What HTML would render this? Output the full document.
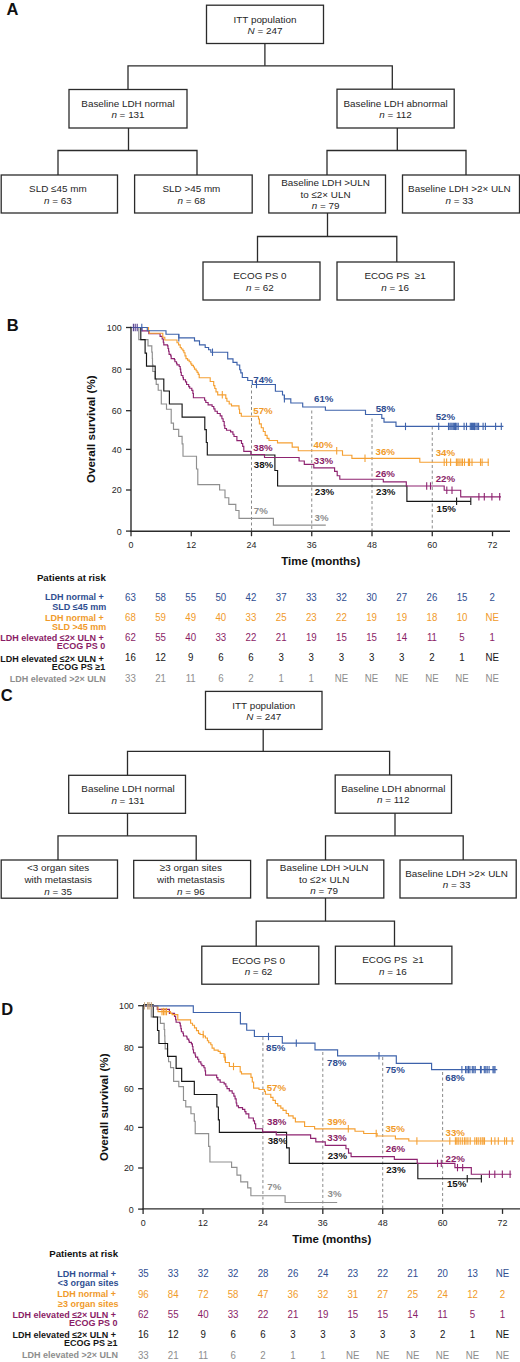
<!DOCTYPE html>
<html><head><meta charset="utf-8"><title>Figure</title>
<style>
html,body{margin:0;padding:0;background:#fff;}
svg{display:block;font-family:"Liberation Sans", sans-serif;}
</style></head>
<body>
<svg width="520" height="1362" viewBox="0 0 520 1362">
<rect width="520" height="1362" fill="#fff"/>
<text x="6.6" y="14.8" font-size="16.5" font-weight="700" fill="#111" text-anchor="start" >A</text>
<rect x="206.5" y="5.2" width="117.0" height="38.3" fill="none" stroke="#2b2b2b" stroke-width="1.3"/>
<text x="265.0" y="22.6" font-size="9.9" font-weight="400" fill="#262626" text-anchor="middle" >ITT population</text>
<text x="265.0" y="33.8" font-size="9.9" font-weight="400" fill="#262626" text-anchor="middle" ><tspan font-style="italic">N</tspan> = 247</text>
<rect x="69" y="89.5" width="118" height="38.5" fill="none" stroke="#2b2b2b" stroke-width="1.3"/>
<text x="128.0" y="107.0" font-size="9.9" font-weight="400" fill="#262626" text-anchor="middle" >Baseline LDH normal</text>
<text x="128.0" y="118.2" font-size="9.9" font-weight="400" fill="#262626" text-anchor="middle" ><tspan font-style="italic">n</tspan> = 131</text>
<rect x="337" y="89.2" width="117.19999999999999" height="38.8" fill="none" stroke="#2b2b2b" stroke-width="1.3"/>
<text x="395.6" y="107.0" font-size="9.9" font-weight="400" fill="#262626" text-anchor="middle" >Baseline LDH abnormal</text>
<text x="395.6" y="118.2" font-size="9.9" font-weight="400" fill="#262626" text-anchor="middle" ><tspan font-style="italic">n</tspan> = 112</text>
<rect x="1.2" y="175" width="116.3" height="38" fill="none" stroke="#2b2b2b" stroke-width="1.3"/>
<text x="57.85" y="192.4" font-size="9.9" font-weight="400" fill="#262626" text-anchor="middle" >SLD ≤45 mm</text>
<text x="57.85" y="203.6" font-size="9.9" font-weight="400" fill="#262626" text-anchor="middle" ><tspan font-style="italic">n</tspan> = 63</text>
<rect x="134.6" y="175" width="117.6" height="38" fill="none" stroke="#2b2b2b" stroke-width="1.3"/>
<text x="191.4" y="192.4" font-size="9.9" font-weight="400" fill="#262626" text-anchor="middle" >SLD &gt;45 mm</text>
<text x="191.4" y="203.6" font-size="9.9" font-weight="400" fill="#262626" text-anchor="middle" ><tspan font-style="italic">n</tspan> = 68</text>
<rect x="268.8" y="175" width="116.69999999999999" height="38" fill="none" stroke="#2b2b2b" stroke-width="1.3"/>
<text x="325.55" y="186.1" font-size="9.9" font-weight="400" fill="#262626" text-anchor="middle" >Baseline LDH &gt;ULN</text>
<text x="325.55" y="197.7" font-size="9.9" font-weight="400" fill="#262626" text-anchor="middle" >to ≤2× ULN</text>
<text x="325.55" y="209.3" font-size="9.9" font-weight="400" fill="#262626" text-anchor="middle" ><tspan font-style="italic">n</tspan> = 79</text>
<rect x="402.5" y="175" width="117.0" height="38" fill="none" stroke="#2b2b2b" stroke-width="1.3"/>
<text x="459.4" y="192.4" font-size="9.9" font-weight="400" fill="#262626" text-anchor="middle" >Baseline LDH &gt;2× ULN</text>
<text x="459.4" y="203.6" font-size="9.9" font-weight="400" fill="#262626" text-anchor="middle" ><tspan font-style="italic">n</tspan> = 33</text>
<rect x="203" y="262" width="117" height="38" fill="none" stroke="#2b2b2b" stroke-width="1.3"/>
<text x="259.9" y="279.3" font-size="9.9" font-weight="400" fill="#262626" text-anchor="middle" >ECOG PS 0</text>
<text x="259.9" y="290.5" font-size="9.9" font-weight="400" fill="#262626" text-anchor="middle" ><tspan font-style="italic">n</tspan> = 62</text>
<rect x="337" y="262" width="117.19999999999999" height="38" fill="none" stroke="#2b2b2b" stroke-width="1.3"/>
<text x="395.1" y="279.3" font-size="9.9" font-weight="400" fill="#262626" text-anchor="middle" >ECOG PS&#160; ≥1</text>
<text x="395.1" y="290.5" font-size="9.9" font-weight="400" fill="#262626" text-anchor="middle" ><tspan font-style="italic">n</tspan> = 16</text>
<path d="M264.9,43.5 L264.9,65.8" fill="none" stroke="#2b2b2b" stroke-width="1.3" stroke-linejoin="miter" stroke-linecap="butt"/>
<path d="M128,89.5 L128,65.8 L392.3,65.8 L392.3,89.2" fill="none" stroke="#2b2b2b" stroke-width="1.3" stroke-linejoin="miter" stroke-linecap="butt"/>
<path d="M128.5,128 L128.5,150.5" fill="none" stroke="#2b2b2b" stroke-width="1.3" stroke-linejoin="miter" stroke-linecap="butt"/>
<path d="M58,175 L58,150.5 L197,150.5 L197,175" fill="none" stroke="#2b2b2b" stroke-width="1.3" stroke-linejoin="miter" stroke-linecap="butt"/>
<path d="M397.3,128 L397.3,150.5" fill="none" stroke="#2b2b2b" stroke-width="1.3" stroke-linejoin="miter" stroke-linecap="butt"/>
<path d="M327,175 L327,150.5 L466,150.5 L466,175" fill="none" stroke="#2b2b2b" stroke-width="1.3" stroke-linejoin="miter" stroke-linecap="butt"/>
<path d="M327.5,213 L327.5,236.5" fill="none" stroke="#2b2b2b" stroke-width="1.3" stroke-linejoin="miter" stroke-linecap="butt"/>
<path d="M257.5,262 L257.5,236.5 L396.8,236.5 L396.8,262" fill="none" stroke="#2b2b2b" stroke-width="1.3" stroke-linejoin="miter" stroke-linecap="butt"/>
<text x="0.8" y="701.3" font-size="16.5" font-weight="700" fill="#111" text-anchor="start" >C</text>
<rect x="205.5" y="691.4" width="116.5" height="38.0" fill="none" stroke="#2b2b2b" stroke-width="1.3"/>
<text x="263.75" y="708.8" font-size="9.9" font-weight="400" fill="#262626" text-anchor="middle" >ITT population</text>
<text x="263.75" y="720.0" font-size="9.9" font-weight="400" fill="#262626" text-anchor="middle" ><tspan font-style="italic">N</tspan> = 247</text>
<rect x="68.7" y="775.3" width="116.8" height="38.0" fill="none" stroke="#2b2b2b" stroke-width="1.3"/>
<text x="128.0" y="792.4" font-size="9.9" font-weight="400" fill="#262626" text-anchor="middle" >Baseline LDH normal</text>
<text x="128.0" y="803.6" font-size="9.9" font-weight="400" fill="#262626" text-anchor="middle" ><tspan font-style="italic">n</tspan> = 131</text>
<rect x="335.2" y="775" width="116.30000000000001" height="38.200000000000045" fill="none" stroke="#2b2b2b" stroke-width="1.3"/>
<text x="393.35" y="792.2" font-size="9.9" font-weight="400" fill="#262626" text-anchor="middle" >Baseline LDH abnormal</text>
<text x="393.35" y="803.4" font-size="9.9" font-weight="400" fill="#262626" text-anchor="middle" ><tspan font-style="italic">n</tspan> = 112</text>
<rect x="1.2" y="860" width="116.3" height="38.200000000000045" fill="none" stroke="#2b2b2b" stroke-width="1.3"/>
<text x="58.15" y="871.3" font-size="9.9" font-weight="400" fill="#262626" text-anchor="middle" >&lt;3 organ sites</text>
<text x="58.15" y="882.9" font-size="9.9" font-weight="400" fill="#262626" text-anchor="middle" >with metastasis</text>
<text x="58.15" y="894.5" font-size="9.9" font-weight="400" fill="#262626" text-anchor="middle" ><tspan font-style="italic">n</tspan> = 35</text>
<rect x="133.7" y="860.4" width="116.9" height="37.60000000000002" fill="none" stroke="#2b2b2b" stroke-width="1.3"/>
<text x="190.85" y="871.3" font-size="9.9" font-weight="400" fill="#262626" text-anchor="middle" >≥3 organ sites</text>
<text x="190.85" y="882.9" font-size="9.9" font-weight="400" fill="#262626" text-anchor="middle" >with metastasis</text>
<text x="190.85" y="894.5" font-size="9.9" font-weight="400" fill="#262626" text-anchor="middle" ><tspan font-style="italic">n</tspan> = 96</text>
<rect x="267" y="860" width="116.80000000000001" height="38" fill="none" stroke="#2b2b2b" stroke-width="1.3"/>
<text x="324.2" y="871.2" font-size="9.9" font-weight="400" fill="#262626" text-anchor="middle" >Baseline LDH &gt;ULN</text>
<text x="324.2" y="882.8" font-size="9.9" font-weight="400" fill="#262626" text-anchor="middle" >to ≤2× ULN</text>
<text x="324.2" y="894.4" font-size="9.9" font-weight="400" fill="#262626" text-anchor="middle" ><tspan font-style="italic">n</tspan> = 79</text>
<rect x="400" y="860" width="116.20000000000005" height="38" fill="none" stroke="#2b2b2b" stroke-width="1.3"/>
<text x="456.6" y="877.2" font-size="9.9" font-weight="400" fill="#262626" text-anchor="middle" >Baseline LDH &gt;2× ULN</text>
<text x="456.6" y="888.4" font-size="9.9" font-weight="400" fill="#262626" text-anchor="middle" ><tspan font-style="italic">n</tspan> = 33</text>
<rect x="201.8" y="946.2" width="117.0" height="38.0" fill="none" stroke="#2b2b2b" stroke-width="1.3"/>
<text x="258.5" y="963.6" font-size="9.9" font-weight="400" fill="#262626" text-anchor="middle" >ECOG PS 0</text>
<text x="258.5" y="974.8" font-size="9.9" font-weight="400" fill="#262626" text-anchor="middle" ><tspan font-style="italic">n</tspan> = 62</text>
<rect x="335.4" y="946.2" width="116.5" height="37.59999999999991" fill="none" stroke="#2b2b2b" stroke-width="1.3"/>
<text x="392.95" y="963.4" font-size="9.9" font-weight="400" fill="#262626" text-anchor="middle" >ECOG PS&#160; ≥1</text>
<text x="392.95" y="974.6" font-size="9.9" font-weight="400" fill="#262626" text-anchor="middle" ><tspan font-style="italic">n</tspan> = 16</text>
<path d="M263.2,729.4 L263.2,751.4" fill="none" stroke="#2b2b2b" stroke-width="1.3" stroke-linejoin="miter" stroke-linecap="butt"/>
<path d="M127.5,775 L127.5,751.4 L389.6,751.4 L389.6,775" fill="none" stroke="#2b2b2b" stroke-width="1.3" stroke-linejoin="miter" stroke-linecap="butt"/>
<path d="M127.5,813 L127.5,835.8" fill="none" stroke="#2b2b2b" stroke-width="1.3" stroke-linejoin="miter" stroke-linecap="butt"/>
<path d="M58,860 L58,835.8 L196.2,835.8 L196.2,860.4" fill="none" stroke="#2b2b2b" stroke-width="1.3" stroke-linejoin="miter" stroke-linecap="butt"/>
<path d="M395,813.2 L395,835.8" fill="none" stroke="#2b2b2b" stroke-width="1.3" stroke-linejoin="miter" stroke-linecap="butt"/>
<path d="M325.5,860 L325.5,835.8 L463.2,835.8 L463.2,860" fill="none" stroke="#2b2b2b" stroke-width="1.3" stroke-linejoin="miter" stroke-linecap="butt"/>
<path d="M325.5,898 L325.5,921.2" fill="none" stroke="#2b2b2b" stroke-width="1.3" stroke-linejoin="miter" stroke-linecap="butt"/>
<path d="M256.2,946.2 L256.2,921.2 L394.5,921.2 L394.5,946.2" fill="none" stroke="#2b2b2b" stroke-width="1.3" stroke-linejoin="miter" stroke-linecap="butt"/>
<text x="6.8" y="330.8" font-size="16.5" font-weight="700" fill="#111" text-anchor="start" >B</text>
<line x1="251.504" y1="385" x2="251.504" y2="531.2" stroke="#8a8a8a" stroke-width="1" stroke-dasharray="3,2.5"/>
<line x1="311.756" y1="410.5" x2="311.756" y2="531.2" stroke="#8a8a8a" stroke-width="1" stroke-dasharray="3,2.5"/>
<line x1="372.008" y1="418.5" x2="372.008" y2="531.2" stroke="#8a8a8a" stroke-width="1" stroke-dasharray="3,2.5"/>
<line x1="432.26" y1="426.5" x2="432.26" y2="531.2" stroke="#8a8a8a" stroke-width="1" stroke-dasharray="3,2.5"/>
<path d="M131,327.5 H138.8 V339.6 H148 V345.9 H151.8 V352.1 H152.3 V358.4 H152.5 V364.6 H152.8 V371.5 H155.2 V379 H156.2 V384.3 H158.2 V390.2 H161.3 V404 H166.5 V409.2 H171.2 V423.1 H173.5 V429.4 H178.7 V436.3 H182.1 V443.8 H183 V456.2 H196.5 V469 H197.8 V484.6 H219.6 V490 H225 V497.7 H228.8 V504.4 H235.8 V510.5 H239 V518.3 H273.4 V525.1 H325.8" fill="none" stroke="#8f8f8f" stroke-width="1.15" stroke-linejoin="miter"/>
<path d="M131,327.5 H140.8 V339.6 H145.1 V353.1 H146.5 V366.1 H155.2 V379 H163.8 V391 H169.4 V404 H182.1 V417.1 H204.8 V429.6 H206.3 V442.5 H207.3 V455 H274.9 V470.5 H277.6 V486 H406.9 V501.3 H470.8" fill="none" stroke="#161616" stroke-width="1.15" stroke-linejoin="miter"/>
<path d="M131,327.5 H141.9 V330.8 H148.8 V333.7 H160.1 V336.3 H162.2 V339 H163.3 V342.2 H163.8 V344.8 H167.5 V345.9 H168 V348.5 H168.6 V351.2 H169.1 V354.3 H170.7 V355.9 H171.2 V358.6 H174.4 V359.6 H174.9 V361.7 H176.5 V363.3 H177 V364.9 H179.2 V366.5 H180.2 V369.1 H180.7 V372.3 H181.3 V375.5 H182.9 V377.6 H183.4 V379.7 H185.5 V381.8 H186.6 V384.5 H188.7 V386.6 H189.7 V388.2 H191.8 V390.3 H192.9 V393.5 H193.4 V397.7 H204.6 V400.2 H205.8 V402.5 H208.1 V404.8 H212.1 V406.5 H213.8 V408.8 H215 V411.2 H217.3 V413.5 H220.2 V415.8 H221.9 V418.7 H223.1 V421.5 H224.2 V425.6 H224.8 V428.5 H226.5 V430.2 H230.6 V431.9 H232.9 V434.2 H234 V436.5 H236.9 V440.6 H241.5 V443.5 H242.7 V446.3 H243.8 V451.3 H250.8 V454.5 H264.5 V457.5 H299.1 V461 H304.3 V464.4 H313.8 V467.9 H334.6 V471.3 H337.2 V475.7 H339.8 V479.2 H383.3 V481.9 H406.3 V486 H444.2 V490.2 H460.7 V496.8 H501" fill="none" stroke="#8e2370" stroke-width="1.15" stroke-linejoin="miter"/>
<path d="M131,327.5 H148.5 V330.5 H149.4 V333.2 H162.8 V337.2 H164.8 V340 H177 V342.7 H178.6 V344.8 H180.2 V347.5 H181.3 V349 H182.9 V350.6 H183.9 V352.7 H185 V355.9 H186 V358.6 H187.6 V360.1 H189.2 V361.7 H190.8 V363.8 H191.8 V365.4 H193.4 V367 H194.5 V369.1 H196.1 V370.7 H197.1 V372.3 H198.2 V374.4 H199.2 V377.7 H210.2 V381.5 H213.7 V385.6 H214.8 V388.5 H216 V391.9 H217.7 V394.8 H225.8 V398.3 H226.9 V401.2 H229.2 V404 H231.5 V405.8 H239 V409.2 H239.6 V413.3 H241.3 V416.2 H258.5 V419 H259.4 V423.8 H261.3 V427.7 H263.3 V431.5 H265.2 V435.4 H267.1 V438.3 H269 V440.5 H277.5 V442.9 H292.2 V447.1 H298.3 V450.7 H342.5 V455.2 H351.9 V458.3 H419.8 V462.2 H489" fill="none" stroke="#f5a033" stroke-width="1.15" stroke-linejoin="miter"/>
<path d="M131,327.5 H147.3 V330.7 H166 V334.2 H178.8 V337.9 H194.5 V340.8 H199.5 V344.8 H205.2 V347.5 H208.6 V349.7 H210.8 V352.2 H227.7 V358.9 H233 V362.3 H237 V365 H239.7 V369.7 H240.8 V372.8 H242.3 V377.5 H247.7 V380.5 H252.3 V384.5 H275.4 V391.2 H282.5 V395 H284.4 V398.8 H290.8 V403 H302.7 V407 H325.4 V410.2 H365.5 V414.5 H381.8 V418.3 H384 V422.1 H396 V426.4 H503.4" fill="none" stroke="#3d62ab" stroke-width="1.15" stroke-linejoin="miter"/>

<line x1="456.6" y1="497.6" x2="456.6" y2="505.0" stroke="#161616" stroke-width="1.1"/><line x1="470.8" y1="497.6" x2="470.8" y2="505.0" stroke="#161616" stroke-width="1.1"/>
<line x1="426.7" y1="482.3" x2="426.7" y2="489.7" stroke="#8e2370" stroke-width="1.1"/><line x1="430.5" y1="482.3" x2="430.5" y2="489.7" stroke="#8e2370" stroke-width="1.1"/><line x1="446.8" y1="486.5" x2="446.8" y2="493.9" stroke="#8e2370" stroke-width="1.1"/><line x1="452" y1="486.5" x2="452" y2="493.9" stroke="#8e2370" stroke-width="1.1"/><line x1="478.9" y1="493.1" x2="478.9" y2="500.5" stroke="#8e2370" stroke-width="1.1"/><line x1="484.3" y1="493.1" x2="484.3" y2="500.5" stroke="#8e2370" stroke-width="1.1"/><line x1="491.9" y1="493.1" x2="491.9" y2="500.5" stroke="#8e2370" stroke-width="1.1"/><line x1="499.7" y1="493.1" x2="499.7" y2="500.5" stroke="#8e2370" stroke-width="1.1"/>
<line x1="133.4" y1="323.8" x2="133.4" y2="331.2" stroke="#553e8e" stroke-width="1.1"/><line x1="135.2" y1="323.8" x2="135.2" y2="331.2" stroke="#553e8e" stroke-width="1.1"/><line x1="137.2" y1="323.8" x2="137.2" y2="331.2" stroke="#553e8e" stroke-width="1.1"/>
<line x1="222.3" y1="391.1" x2="222.3" y2="398.5" stroke="#f5a033" stroke-width="1.1"/><line x1="336.7" y1="447.0" x2="336.7" y2="454.4" stroke="#f5a033" stroke-width="1.1"/><line x1="365" y1="454.6" x2="365" y2="462.0" stroke="#f5a033" stroke-width="1.1"/><line x1="444.2" y1="458.5" x2="444.2" y2="465.9" stroke="#f5a033" stroke-width="1.1"/><line x1="446.6" y1="458.5" x2="446.6" y2="465.9" stroke="#f5a033" stroke-width="1.1"/><line x1="450.6" y1="458.5" x2="450.6" y2="465.9" stroke="#f5a033" stroke-width="1.1"/><line x1="456.4" y1="458.5" x2="456.4" y2="465.9" stroke="#f5a033" stroke-width="1.1"/><line x1="457.8" y1="458.5" x2="457.8" y2="465.9" stroke="#f5a033" stroke-width="1.1"/><line x1="459.1" y1="458.5" x2="459.1" y2="465.9" stroke="#f5a033" stroke-width="1.1"/><line x1="461" y1="458.5" x2="461" y2="465.9" stroke="#f5a033" stroke-width="1.1"/><line x1="462.5" y1="458.5" x2="462.5" y2="465.9" stroke="#f5a033" stroke-width="1.1"/><line x1="464.5" y1="458.5" x2="464.5" y2="465.9" stroke="#f5a033" stroke-width="1.1"/><line x1="468.4" y1="458.5" x2="468.4" y2="465.9" stroke="#f5a033" stroke-width="1.1"/><line x1="469.6" y1="458.5" x2="469.6" y2="465.9" stroke="#f5a033" stroke-width="1.1"/><line x1="472" y1="458.5" x2="472" y2="465.9" stroke="#f5a033" stroke-width="1.1"/><line x1="480.5" y1="458.5" x2="480.5" y2="465.9" stroke="#f5a033" stroke-width="1.1"/><line x1="482.1" y1="458.5" x2="482.1" y2="465.9" stroke="#f5a033" stroke-width="1.1"/><line x1="488.2" y1="458.5" x2="488.2" y2="465.9" stroke="#f5a033" stroke-width="1.1"/>
<line x1="141.8" y1="323.8" x2="141.8" y2="331.2" stroke="#3d62ab" stroke-width="1.1"/><line x1="178.8" y1="334.2" x2="178.8" y2="341.6" stroke="#3d62ab" stroke-width="1.1"/><line x1="212.5" y1="348.5" x2="212.5" y2="355.9" stroke="#3d62ab" stroke-width="1.1"/><line x1="256.5" y1="380.8" x2="256.5" y2="388.2" stroke="#3d62ab" stroke-width="1.1"/><line x1="284.4" y1="395.1" x2="284.4" y2="402.5" stroke="#3d62ab" stroke-width="1.1"/><line x1="405.5" y1="422.7" x2="405.5" y2="430.1" stroke="#3d62ab" stroke-width="1.1"/><line x1="438.7" y1="422.7" x2="438.7" y2="430.1" stroke="#3d62ab" stroke-width="1.1"/><line x1="448.5" y1="422.7" x2="448.5" y2="430.1" stroke="#3d62ab" stroke-width="1.1"/><line x1="449.9" y1="422.7" x2="449.9" y2="430.1" stroke="#3d62ab" stroke-width="1.1"/><line x1="451" y1="422.7" x2="451" y2="430.1" stroke="#3d62ab" stroke-width="1.1"/><line x1="452.1" y1="422.7" x2="452.1" y2="430.1" stroke="#3d62ab" stroke-width="1.1"/><line x1="453.3" y1="422.7" x2="453.3" y2="430.1" stroke="#3d62ab" stroke-width="1.1"/><line x1="454.4" y1="422.7" x2="454.4" y2="430.1" stroke="#3d62ab" stroke-width="1.1"/><line x1="455.5" y1="422.7" x2="455.5" y2="430.1" stroke="#3d62ab" stroke-width="1.1"/><line x1="456.8" y1="422.7" x2="456.8" y2="430.1" stroke="#3d62ab" stroke-width="1.1"/><line x1="458.2" y1="422.7" x2="458.2" y2="430.1" stroke="#3d62ab" stroke-width="1.1"/><line x1="464.1" y1="422.7" x2="464.1" y2="430.1" stroke="#3d62ab" stroke-width="1.1"/><line x1="466.5" y1="422.7" x2="466.5" y2="430.1" stroke="#3d62ab" stroke-width="1.1"/><line x1="470.3" y1="422.7" x2="470.3" y2="430.1" stroke="#3d62ab" stroke-width="1.1"/><line x1="471.4" y1="422.7" x2="471.4" y2="430.1" stroke="#3d62ab" stroke-width="1.1"/><line x1="472.4" y1="422.7" x2="472.4" y2="430.1" stroke="#3d62ab" stroke-width="1.1"/><line x1="473.4" y1="422.7" x2="473.4" y2="430.1" stroke="#3d62ab" stroke-width="1.1"/><line x1="474.5" y1="422.7" x2="474.5" y2="430.1" stroke="#3d62ab" stroke-width="1.1"/><line x1="475.9" y1="422.7" x2="475.9" y2="430.1" stroke="#3d62ab" stroke-width="1.1"/><line x1="477.2" y1="422.7" x2="477.2" y2="430.1" stroke="#3d62ab" stroke-width="1.1"/><line x1="478.6" y1="422.7" x2="478.6" y2="430.1" stroke="#3d62ab" stroke-width="1.1"/><line x1="483.1" y1="422.7" x2="483.1" y2="430.1" stroke="#3d62ab" stroke-width="1.1"/><line x1="485.4" y1="422.7" x2="485.4" y2="430.1" stroke="#3d62ab" stroke-width="1.1"/><line x1="495.6" y1="422.7" x2="495.6" y2="430.1" stroke="#3d62ab" stroke-width="1.1"/><line x1="501.3" y1="422.7" x2="501.3" y2="430.1" stroke="#3d62ab" stroke-width="1.1"/>
<line x1="131" y1="326.7" x2="131" y2="531.9000000000001" stroke="#2b2b2b" stroke-width="1.4"/>
<line x1="130.3" y1="531.2" x2="510" y2="531.2" stroke="#2b2b2b" stroke-width="1.4"/>
<line x1="126" y1="531.1" x2="131" y2="531.1" stroke="#2b2b2b" stroke-width="1.3"/>
<text transform="translate(121.7,534.5) scale(0.9,1)" font-size="9.9" fill="#262626" text-anchor="end">0</text>
<line x1="126" y1="490" x2="131" y2="490" stroke="#2b2b2b" stroke-width="1.3"/>
<text transform="translate(121.7,493.4) scale(0.9,1)" font-size="9.9" fill="#262626" text-anchor="end">20</text>
<line x1="126" y1="449.4" x2="131" y2="449.4" stroke="#2b2b2b" stroke-width="1.3"/>
<text transform="translate(121.7,452.8) scale(0.9,1)" font-size="9.9" fill="#262626" text-anchor="end">40</text>
<line x1="126" y1="410.7" x2="131" y2="410.7" stroke="#2b2b2b" stroke-width="1.3"/>
<text transform="translate(121.7,414.1) scale(0.9,1)" font-size="9.9" fill="#262626" text-anchor="end">60</text>
<line x1="126" y1="369.2" x2="131" y2="369.2" stroke="#2b2b2b" stroke-width="1.3"/>
<text transform="translate(121.7,372.6) scale(0.9,1)" font-size="9.9" fill="#262626" text-anchor="end">80</text>
<line x1="126" y1="327.5" x2="131" y2="327.5" stroke="#2b2b2b" stroke-width="1.3"/>
<text transform="translate(121.7,330.9) scale(0.9,1)" font-size="9.9" fill="#262626" text-anchor="end">100</text>
<line x1="131.0" y1="531.2" x2="131.0" y2="536.2" stroke="#2b2b2b" stroke-width="1.3"/>
<text transform="translate(131.0,548.1) scale(0.9,1)" font-size="9.9" fill="#262626" text-anchor="middle">0</text>
<line x1="191.252" y1="531.2" x2="191.252" y2="536.2" stroke="#2b2b2b" stroke-width="1.3"/>
<text transform="translate(191.25,548.1) scale(0.9,1)" font-size="9.9" fill="#262626" text-anchor="middle">12</text>
<line x1="251.504" y1="531.2" x2="251.504" y2="536.2" stroke="#2b2b2b" stroke-width="1.3"/>
<text transform="translate(251.5,548.1) scale(0.9,1)" font-size="9.9" fill="#262626" text-anchor="middle">24</text>
<line x1="311.756" y1="531.2" x2="311.756" y2="536.2" stroke="#2b2b2b" stroke-width="1.3"/>
<text transform="translate(311.76,548.1) scale(0.9,1)" font-size="9.9" fill="#262626" text-anchor="middle">36</text>
<line x1="372.008" y1="531.2" x2="372.008" y2="536.2" stroke="#2b2b2b" stroke-width="1.3"/>
<text transform="translate(372.01,548.1) scale(0.9,1)" font-size="9.9" fill="#262626" text-anchor="middle">48</text>
<line x1="432.26" y1="531.2" x2="432.26" y2="536.2" stroke="#2b2b2b" stroke-width="1.3"/>
<text transform="translate(432.26,548.1) scale(0.9,1)" font-size="9.9" fill="#262626" text-anchor="middle">60</text>
<line x1="492.512" y1="531.2" x2="492.512" y2="536.2" stroke="#2b2b2b" stroke-width="1.3"/>
<text transform="translate(492.51,548.1) scale(0.9,1)" font-size="9.9" fill="#262626" text-anchor="middle">72</text>
<text x="320.76" y="565.4000000000001" font-size="11.5" font-weight="700" fill="#111" text-anchor="middle" >Time (months)</text>
<text x="0" y="0" font-size="11.6" font-weight="700" fill="#111" text-anchor="middle" transform="translate(95,429.25) rotate(-90)">Overall survival (%)</text>
<text x="253.35" y="382.6" font-size="9.7" font-weight="700" fill="#2f4e91" text-anchor="start" >74%</text>
<text x="314.0" y="402.4" font-size="9.7" font-weight="700" fill="#2f4e91" text-anchor="start" >61%</text>
<text x="375.7" y="412.3" font-size="9.7" font-weight="700" fill="#2f4e91" text-anchor="start" >58%</text>
<text x="435.7" y="419.7" font-size="9.7" font-weight="700" fill="#2f4e91" text-anchor="start" >52%</text>
<text x="253.3" y="414.2" font-size="9.7" font-weight="700" fill="#f09a2a" text-anchor="start" >57%</text>
<text x="313.4" y="448.3" font-size="9.7" font-weight="700" fill="#f09a2a" text-anchor="start" >40%</text>
<text x="375.6" y="455.4" font-size="9.7" font-weight="700" fill="#f09a2a" text-anchor="start" >36%</text>
<text x="435.7" y="456.4" font-size="9.7" font-weight="700" fill="#f09a2a" text-anchor="start" >34%</text>
<text x="253.3" y="450.8" font-size="9.7" font-weight="700" fill="#8a1d66" text-anchor="start" >38%</text>
<text x="313.8" y="463.7" font-size="9.7" font-weight="700" fill="#8a1d66" text-anchor="start" >33%</text>
<text x="375.6" y="476.9" font-size="9.7" font-weight="700" fill="#8a1d66" text-anchor="start" >26%</text>
<text x="435.7" y="482.4" font-size="9.7" font-weight="700" fill="#8a1d66" text-anchor="start" >22%</text>
<text x="253.8" y="467.5" font-size="9.7" font-weight="700" fill="#161616" text-anchor="start" >38%</text>
<text x="314.8" y="495" font-size="9.7" font-weight="700" fill="#161616" text-anchor="start" >23%</text>
<text x="376.1" y="495.4" font-size="9.7" font-weight="700" fill="#161616" text-anchor="start" >23%</text>
<text x="436.5" y="511.8" font-size="9.7" font-weight="700" fill="#161616" text-anchor="start" >15%</text>
<text x="253.8" y="514.2" font-size="9.7" font-weight="700" fill="#8d8d8d" text-anchor="start" >7%</text>
<text x="314.5" y="521.2" font-size="9.7" font-weight="700" fill="#8d8d8d" text-anchor="start" >3%</text>
<text x="1.2" y="1015" font-size="16.5" font-weight="700" fill="#111" text-anchor="start" >D</text>
<line x1="262.908" y1="1037" x2="262.908" y2="1208.9" stroke="#8a8a8a" stroke-width="1" stroke-dasharray="3,2.5"/>
<line x1="322.812" y1="1052" x2="322.812" y2="1208.9" stroke="#8a8a8a" stroke-width="1" stroke-dasharray="3,2.5"/>
<line x1="382.716" y1="1057" x2="382.716" y2="1208.9" stroke="#8a8a8a" stroke-width="1" stroke-dasharray="3,2.5"/>
<line x1="442.62" y1="1072" x2="442.62" y2="1208.9" stroke="#8a8a8a" stroke-width="1" stroke-dasharray="3,2.5"/>
<path d="M143.1,1004.9 H151.26 V1017.0 H160.4 V1023.3 H164.18 V1029.5 H164.68 V1035.8 H164.88 V1042.0 H165.18 V1048.9 H167.56 V1056.4 H168.56 V1061.7 H170.54 V1067.6 H173.63 V1081.4 H178.8 V1086.6 H183.47 V1100.5 H185.76 V1106.8 H190.93 V1113.7 H194.31 V1121.2 H195.2 V1133.6 H208.63 V1146.4 H209.92 V1162.0 H231.59 V1167.4 H236.96 V1175.1 H240.74 V1181.8 H247.7 V1187.9 H250.88 V1195.7 H285.09 V1202.5 H337.19" fill="none" stroke="#8f8f8f" stroke-width="1.15" stroke-linejoin="miter"/>
<path d="M143.1,1004.9 H153.24 V1017.0 H157.52 V1030.5 H158.91 V1043.5 H167.56 V1056.4 H176.11 V1068.4 H181.68 V1081.4 H194.31 V1094.5 H216.88 V1107.0 H218.37 V1119.9 H219.37 V1132.4 H286.58 V1147.9 H289.26 V1163.4 H417.83 V1178.7 H481.36" fill="none" stroke="#161616" stroke-width="1.15" stroke-linejoin="miter"/>
<path d="M143.1,1005.8 H157.3 V1009.3 H169.4 V1013.3 H174.52 V1016.4 H175.62 V1019.6 H176.11 V1022.2 H179.79 V1023.3 H180.29 V1025.9 H180.89 V1028.6 H181.38 V1031.7 H182.97 V1033.3 H183.47 V1036.0 H186.65 V1037.0 H187.15 V1039.1 H188.74 V1040.7 H189.24 V1042.3 H191.43 V1043.9 H192.42 V1046.5 H192.92 V1049.7 H193.51 V1052.9 H195.1 V1055.0 H195.6 V1057.1 H197.69 V1059.2 H198.78 V1061.9 H200.87 V1064.0 H201.87 V1065.6 H203.95 V1067.7 H205.05 V1070.9 H205.54 V1075.1 H216.68 V1077.6 H217.87 V1079.9 H220.16 V1082.2 H224.14 V1083.9 H225.83 V1086.2 H227.02 V1088.6 H229.31 V1090.9 H232.19 V1093.2 H233.88 V1096.1 H235.08 V1098.9 H236.17 V1103.0 H236.77 V1105.9 H238.46 V1107.6 H242.53 V1109.3 H244.82 V1111.6 H245.91 V1113.9 H248.8 V1118.0 H253.37 V1120.9 H254.56 V1123.7 H255.66 V1128.7 H262.62 V1131.9 H276.24 V1134.9 H310.64 V1138.4 H315.81 V1141.8 H325.26 V1145.3 H345.94 V1148.7 H348.52 V1153.1 H351.11 V1156.6 H394.36 V1159.3 H417.23 V1163.4 H454.91 V1167.6 H471.32 V1174.2 H511.39" fill="none" stroke="#8e2370" stroke-width="1.15" stroke-linejoin="miter"/>
<path d="M143.1,1005.8 H158 V1011.6 H170.5 V1013.4 H172.1 V1014.6 H177.8 V1019.8 H190.6 V1023.2 H192.5 V1025.2 H194.5 V1027.9 H196.5 V1030.6 H198.5 V1033.3 H200 V1034.5 H203.4 V1036 H205.4 V1038 H207.4 V1040.7 H208.7 V1042.7 H210.8 V1044.7 H212.1 V1048.1 H214.1 V1050.1 H218.2 V1051.4 H220.2 V1053.5 H224 V1057.1 H225.4 V1062.5 H229.4 V1066.5 H240.2 V1071.9 H241.5 V1073.9 H251 V1077.3 H252.3 V1082 H253.6 V1088.1 H259 V1089.5 H264.4 V1091.4 H265.4 V1094.2 H270.8 V1097.3 H273 V1100.4 H275.4 V1103.5 H277.7 V1105.8 H280.8 V1108.1 H283 V1110.4 H286.2 V1113.5 H288.5 V1115.8 H293.1 V1118.1 H295.4 V1121.9 H304.6 V1126.5 H314.6 V1128.8 H355 V1131.2 H363.7 V1133.5 H377.1 V1136 H395.4 V1138.8 H408.8 V1141 H514.2" fill="none" stroke="#f5a033" stroke-width="1.15" stroke-linejoin="miter"/>
<path d="M143.1,1005.8 H193.3 V1012.5 H240.4 V1023.8 H246.7 V1030.2 H254.4 V1036.5 H282.3 V1043.1 H315 V1049.8 H337.6 V1055.8 H396.3 V1063.4 H431.6 V1069.6 H497.3" fill="none" stroke="#3d62ab" stroke-width="1.15" stroke-linejoin="miter"/>

<line x1="467.24" y1="1175.0" x2="467.24" y2="1182.4" stroke="#161616" stroke-width="1.1"/><line x1="481.36" y1="1175.0" x2="481.36" y2="1182.4" stroke="#161616" stroke-width="1.1"/>
<line x1="437.51" y1="1159.7" x2="437.51" y2="1167.1" stroke="#8e2370" stroke-width="1.1"/><line x1="441.29" y1="1159.7" x2="441.29" y2="1167.1" stroke="#8e2370" stroke-width="1.1"/><line x1="457.5" y1="1163.9" x2="457.5" y2="1171.3" stroke="#8e2370" stroke-width="1.1"/><line x1="462.67" y1="1163.9" x2="462.67" y2="1171.3" stroke="#8e2370" stroke-width="1.1"/><line x1="489.42" y1="1170.5" x2="489.42" y2="1177.9" stroke="#8e2370" stroke-width="1.1"/><line x1="494.79" y1="1170.5" x2="494.79" y2="1177.9" stroke="#8e2370" stroke-width="1.1"/><line x1="502.34" y1="1170.5" x2="502.34" y2="1177.9" stroke="#8e2370" stroke-width="1.1"/><line x1="510.1" y1="1170.5" x2="510.1" y2="1177.9" stroke="#8e2370" stroke-width="1.1"/>
<line x1="162" y1="1007.9" x2="162" y2="1015.3" stroke="#f5a033" stroke-width="1.1"/><line x1="163.5" y1="1007.9" x2="163.5" y2="1015.3" stroke="#f5a033" stroke-width="1.1"/><line x1="165" y1="1007.9" x2="165" y2="1015.3" stroke="#f5a033" stroke-width="1.1"/><line x1="166.5" y1="1007.9" x2="166.5" y2="1015.3" stroke="#f5a033" stroke-width="1.1"/><line x1="203.2" y1="1030.8" x2="203.2" y2="1038.2" stroke="#f5a033" stroke-width="1.1"/><line x1="224.9" y1="1053.4" x2="224.9" y2="1060.8" stroke="#f5a033" stroke-width="1.1"/><line x1="233.5" y1="1062.8" x2="233.5" y2="1070.2" stroke="#f5a033" stroke-width="1.1"/><line x1="348.3" y1="1125.1" x2="348.3" y2="1132.5" stroke="#f5a033" stroke-width="1.1"/><line x1="376.2" y1="1129.8" x2="376.2" y2="1137.2" stroke="#f5a033" stroke-width="1.1"/><line x1="416.9" y1="1137.3" x2="416.9" y2="1144.7" stroke="#f5a033" stroke-width="1.1"/><line x1="449.8" y1="1137.3" x2="449.8" y2="1144.7" stroke="#f5a033" stroke-width="1.1"/><line x1="455.4" y1="1137.3" x2="455.4" y2="1144.7" stroke="#f5a033" stroke-width="1.1"/><line x1="456.8" y1="1137.3" x2="456.8" y2="1144.7" stroke="#f5a033" stroke-width="1.1"/><line x1="458.2" y1="1137.3" x2="458.2" y2="1144.7" stroke="#f5a033" stroke-width="1.1"/><line x1="460.2" y1="1137.3" x2="460.2" y2="1144.7" stroke="#f5a033" stroke-width="1.1"/><line x1="462.3" y1="1137.3" x2="462.3" y2="1144.7" stroke="#f5a033" stroke-width="1.1"/><line x1="464.4" y1="1137.3" x2="464.4" y2="1144.7" stroke="#f5a033" stroke-width="1.1"/><line x1="466" y1="1137.3" x2="466" y2="1144.7" stroke="#f5a033" stroke-width="1.1"/><line x1="467.9" y1="1137.3" x2="467.9" y2="1144.7" stroke="#f5a033" stroke-width="1.1"/><line x1="470.2" y1="1137.3" x2="470.2" y2="1144.7" stroke="#f5a033" stroke-width="1.1"/><line x1="474.8" y1="1137.3" x2="474.8" y2="1144.7" stroke="#f5a033" stroke-width="1.1"/><line x1="476.6" y1="1137.3" x2="476.6" y2="1144.7" stroke="#f5a033" stroke-width="1.1"/><line x1="478.2" y1="1137.3" x2="478.2" y2="1144.7" stroke="#f5a033" stroke-width="1.1"/><line x1="480.3" y1="1137.3" x2="480.3" y2="1144.7" stroke="#f5a033" stroke-width="1.1"/><line x1="482.1" y1="1137.3" x2="482.1" y2="1144.7" stroke="#f5a033" stroke-width="1.1"/><line x1="483.1" y1="1137.3" x2="483.1" y2="1144.7" stroke="#f5a033" stroke-width="1.1"/><line x1="484.5" y1="1137.3" x2="484.5" y2="1144.7" stroke="#f5a033" stroke-width="1.1"/><line x1="491.4" y1="1137.3" x2="491.4" y2="1144.7" stroke="#f5a033" stroke-width="1.1"/><line x1="494.9" y1="1137.3" x2="494.9" y2="1144.7" stroke="#f5a033" stroke-width="1.1"/><line x1="498.3" y1="1137.3" x2="498.3" y2="1144.7" stroke="#f5a033" stroke-width="1.1"/><line x1="504.6" y1="1137.3" x2="504.6" y2="1144.7" stroke="#f5a033" stroke-width="1.1"/><line x1="506.6" y1="1137.3" x2="506.6" y2="1144.7" stroke="#f5a033" stroke-width="1.1"/><line x1="512.2" y1="1137.3" x2="512.2" y2="1144.7" stroke="#f5a033" stroke-width="1.1"/>
<line x1="268.5" y1="1032.8" x2="268.5" y2="1040.2" stroke="#3d62ab" stroke-width="1.1"/><line x1="296.3" y1="1039.4" x2="296.3" y2="1046.8" stroke="#3d62ab" stroke-width="1.1"/><line x1="379" y1="1052.1" x2="379" y2="1059.5" stroke="#3d62ab" stroke-width="1.1"/><line x1="461.9" y1="1065.9" x2="461.9" y2="1073.3" stroke="#3d62ab" stroke-width="1.1"/><line x1="465.6" y1="1065.9" x2="465.6" y2="1073.3" stroke="#3d62ab" stroke-width="1.1"/><line x1="467" y1="1065.9" x2="467" y2="1073.3" stroke="#3d62ab" stroke-width="1.1"/><line x1="468.5" y1="1065.9" x2="468.5" y2="1073.3" stroke="#3d62ab" stroke-width="1.1"/><line x1="469.9" y1="1065.9" x2="469.9" y2="1073.3" stroke="#3d62ab" stroke-width="1.1"/><line x1="472.3" y1="1065.9" x2="472.3" y2="1073.3" stroke="#3d62ab" stroke-width="1.1"/><line x1="473.8" y1="1065.9" x2="473.8" y2="1073.3" stroke="#3d62ab" stroke-width="1.1"/><line x1="475.2" y1="1065.9" x2="475.2" y2="1073.3" stroke="#3d62ab" stroke-width="1.1"/><line x1="480.5" y1="1065.9" x2="480.5" y2="1073.3" stroke="#3d62ab" stroke-width="1.1"/><line x1="481.2" y1="1065.9" x2="481.2" y2="1073.3" stroke="#3d62ab" stroke-width="1.1"/><line x1="484.3" y1="1065.9" x2="484.3" y2="1073.3" stroke="#3d62ab" stroke-width="1.1"/><line x1="485.8" y1="1065.9" x2="485.8" y2="1073.3" stroke="#3d62ab" stroke-width="1.1"/><line x1="487.2" y1="1065.9" x2="487.2" y2="1073.3" stroke="#3d62ab" stroke-width="1.1"/><line x1="489.1" y1="1065.9" x2="489.1" y2="1073.3" stroke="#3d62ab" stroke-width="1.1"/><line x1="493" y1="1065.9" x2="493" y2="1073.3" stroke="#3d62ab" stroke-width="1.1"/><line x1="494" y1="1065.9" x2="494" y2="1073.3" stroke="#3d62ab" stroke-width="1.1"/><line x1="495" y1="1065.9" x2="495" y2="1073.3" stroke="#3d62ab" stroke-width="1.1"/>
<line x1="144.5" y1="1002.1" x2="144.5" y2="1009.5" stroke="#c9a77e" stroke-width="0.9"/><line x1="147.5" y1="1002.1" x2="147.5" y2="1009.5" stroke="#c9a77e" stroke-width="0.9"/><line x1="148.7" y1="1002.1" x2="148.7" y2="1009.5" stroke="#c9a77e" stroke-width="0.9"/><line x1="149.8" y1="1002.1" x2="149.8" y2="1009.5" stroke="#c9a77e" stroke-width="0.9"/><line x1="151.5" y1="1002.1" x2="151.5" y2="1009.5" stroke="#c9a77e" stroke-width="0.9"/>
<line x1="143.1" y1="1005.1" x2="143.1" y2="1209.6000000000001" stroke="#2b2b2b" stroke-width="1.4"/>
<line x1="142.4" y1="1208.9" x2="520" y2="1208.9" stroke="#2b2b2b" stroke-width="1.4"/>
<line x1="138.1" y1="1209.1" x2="143.1" y2="1209.1" stroke="#2b2b2b" stroke-width="1.3"/>
<text transform="translate(133.79999999999998,1212.5) scale(0.9,1)" font-size="9.9" fill="#262626" text-anchor="end">0</text>
<line x1="138.1" y1="1168" x2="143.1" y2="1168" stroke="#2b2b2b" stroke-width="1.3"/>
<text transform="translate(133.79999999999998,1171.4) scale(0.9,1)" font-size="9.9" fill="#262626" text-anchor="end">20</text>
<line x1="138.1" y1="1127.4" x2="143.1" y2="1127.4" stroke="#2b2b2b" stroke-width="1.3"/>
<text transform="translate(133.79999999999998,1130.8) scale(0.9,1)" font-size="9.9" fill="#262626" text-anchor="end">40</text>
<line x1="138.1" y1="1088.7" x2="143.1" y2="1088.7" stroke="#2b2b2b" stroke-width="1.3"/>
<text transform="translate(133.79999999999998,1092.1) scale(0.9,1)" font-size="9.9" fill="#262626" text-anchor="end">60</text>
<line x1="138.1" y1="1047.2" x2="143.1" y2="1047.2" stroke="#2b2b2b" stroke-width="1.3"/>
<text transform="translate(133.79999999999998,1050.6) scale(0.9,1)" font-size="9.9" fill="#262626" text-anchor="end">80</text>
<line x1="138.1" y1="1005.7" x2="143.1" y2="1005.7" stroke="#2b2b2b" stroke-width="1.3"/>
<text transform="translate(133.79999999999998,1009.1) scale(0.9,1)" font-size="9.9" fill="#262626" text-anchor="end">100</text>
<line x1="143.1" y1="1208.9" x2="143.1" y2="1213.9" stroke="#2b2b2b" stroke-width="1.3"/>
<text transform="translate(143.1,1225.8) scale(0.9,1)" font-size="9.9" fill="#262626" text-anchor="middle">0</text>
<line x1="203.004" y1="1208.9" x2="203.004" y2="1213.9" stroke="#2b2b2b" stroke-width="1.3"/>
<text transform="translate(203.0,1225.8) scale(0.9,1)" font-size="9.9" fill="#262626" text-anchor="middle">12</text>
<line x1="262.908" y1="1208.9" x2="262.908" y2="1213.9" stroke="#2b2b2b" stroke-width="1.3"/>
<text transform="translate(262.91,1225.8) scale(0.9,1)" font-size="9.9" fill="#262626" text-anchor="middle">24</text>
<line x1="322.812" y1="1208.9" x2="322.812" y2="1213.9" stroke="#2b2b2b" stroke-width="1.3"/>
<text transform="translate(322.81,1225.8) scale(0.9,1)" font-size="9.9" fill="#262626" text-anchor="middle">36</text>
<line x1="382.716" y1="1208.9" x2="382.716" y2="1213.9" stroke="#2b2b2b" stroke-width="1.3"/>
<text transform="translate(382.72,1225.8) scale(0.9,1)" font-size="9.9" fill="#262626" text-anchor="middle">48</text>
<line x1="442.62" y1="1208.9" x2="442.62" y2="1213.9" stroke="#2b2b2b" stroke-width="1.3"/>
<text transform="translate(442.62,1225.8) scale(0.9,1)" font-size="9.9" fill="#262626" text-anchor="middle">60</text>
<line x1="502.524" y1="1208.9" x2="502.524" y2="1213.9" stroke="#2b2b2b" stroke-width="1.3"/>
<text transform="translate(502.52,1225.8) scale(0.9,1)" font-size="9.9" fill="#262626" text-anchor="middle">72</text>
<text x="331.81" y="1243.1000000000001" font-size="11.5" font-weight="700" fill="#111" text-anchor="middle" >Time (months)</text>
<text x="0" y="0" font-size="11.6" font-weight="700" fill="#111" text-anchor="middle" transform="translate(107.7,1107.3000000000002) rotate(-90)">Overall survival (%)</text>
<text x="266.1" y="1051.3" font-size="9.7" font-weight="700" fill="#2f4e91" text-anchor="start" >85%</text>
<text x="327.1" y="1066.3" font-size="9.7" font-weight="700" fill="#2f4e91" text-anchor="start" >78%</text>
<text x="385.4" y="1072.7" font-size="9.7" font-weight="700" fill="#2f4e91" text-anchor="start" >75%</text>
<text x="445.3" y="1081.2" font-size="9.7" font-weight="700" fill="#2f4e91" text-anchor="start" >68%</text>
<text x="266.7" y="1090.8" font-size="9.7" font-weight="700" fill="#f09a2a" text-anchor="start" >57%</text>
<text x="327.3" y="1125.3" font-size="9.7" font-weight="700" fill="#f09a2a" text-anchor="start" >39%</text>
<text x="385.4" y="1132.1" font-size="9.7" font-weight="700" fill="#f09a2a" text-anchor="start" >35%</text>
<text x="445.6" y="1136.2" font-size="9.7" font-weight="700" fill="#f09a2a" text-anchor="start" >33%</text>
<text x="267.1" y="1125.2" font-size="9.7" font-weight="700" fill="#8a1d66" text-anchor="start" >38%</text>
<text x="327.3" y="1141" font-size="9.7" font-weight="700" fill="#8a1d66" text-anchor="start" >33%</text>
<text x="385.8" y="1152.4" font-size="9.7" font-weight="700" fill="#8a1d66" text-anchor="start" >26%</text>
<text x="445.6" y="1162.1" font-size="9.7" font-weight="700" fill="#8a1d66" text-anchor="start" >22%</text>
<text x="267.7" y="1144.4" font-size="9.7" font-weight="700" fill="#161616" text-anchor="start" >38%</text>
<text x="327.7" y="1159.2" font-size="9.7" font-weight="700" fill="#161616" text-anchor="start" >23%</text>
<text x="386.2" y="1172.7" font-size="9.7" font-weight="700" fill="#161616" text-anchor="start" >23%</text>
<text x="446.9" y="1187.2" font-size="9.7" font-weight="700" fill="#161616" text-anchor="start" >15%</text>
<text x="267.3" y="1190" font-size="9.7" font-weight="700" fill="#8d8d8d" text-anchor="start" >7%</text>
<text x="327.6" y="1196.5" font-size="9.7" font-weight="700" fill="#8d8d8d" text-anchor="start" >3%</text>
<text x="105.8" y="580.5" font-size="9.7" font-weight="700" fill="#111" text-anchor="end" >Patients at risk</text>
<text transform="translate(130.4,600.6) scale(0.95,1)" font-size="10.2" fill="#2f4e91" text-anchor="middle">63</text>
<text transform="translate(160.55,600.6) scale(0.95,1)" font-size="10.2" fill="#2f4e91" text-anchor="middle">58</text>
<text transform="translate(190.7,600.6) scale(0.95,1)" font-size="10.2" fill="#2f4e91" text-anchor="middle">55</text>
<text transform="translate(220.85,600.6) scale(0.95,1)" font-size="10.2" fill="#2f4e91" text-anchor="middle">50</text>
<text transform="translate(251.0,600.6) scale(0.95,1)" font-size="10.2" fill="#2f4e91" text-anchor="middle">42</text>
<text transform="translate(281.15,600.6) scale(0.95,1)" font-size="10.2" fill="#2f4e91" text-anchor="middle">37</text>
<text transform="translate(311.3,600.6) scale(0.95,1)" font-size="10.2" fill="#2f4e91" text-anchor="middle">33</text>
<text transform="translate(341.45,600.6) scale(0.95,1)" font-size="10.2" fill="#2f4e91" text-anchor="middle">32</text>
<text transform="translate(371.6,600.6) scale(0.95,1)" font-size="10.2" fill="#2f4e91" text-anchor="middle">30</text>
<text transform="translate(401.75,600.6) scale(0.95,1)" font-size="10.2" fill="#2f4e91" text-anchor="middle">27</text>
<text transform="translate(431.9,600.6) scale(0.95,1)" font-size="10.2" fill="#2f4e91" text-anchor="middle">26</text>
<text transform="translate(462.05,600.6) scale(0.95,1)" font-size="10.2" fill="#2f4e91" text-anchor="middle">15</text>
<text transform="translate(492.2,600.6) scale(0.95,1)" font-size="10.2" fill="#2f4e91" text-anchor="middle">2</text>
<text transform="translate(130.4,620.8) scale(0.95,1)" font-size="10.2" fill="#f09a2a" text-anchor="middle">68</text>
<text transform="translate(160.55,620.8) scale(0.95,1)" font-size="10.2" fill="#f09a2a" text-anchor="middle">59</text>
<text transform="translate(190.7,620.8) scale(0.95,1)" font-size="10.2" fill="#f09a2a" text-anchor="middle">49</text>
<text transform="translate(220.85,620.8) scale(0.95,1)" font-size="10.2" fill="#f09a2a" text-anchor="middle">40</text>
<text transform="translate(251.0,620.8) scale(0.95,1)" font-size="10.2" fill="#f09a2a" text-anchor="middle">33</text>
<text transform="translate(281.15,620.8) scale(0.95,1)" font-size="10.2" fill="#f09a2a" text-anchor="middle">25</text>
<text transform="translate(311.3,620.8) scale(0.95,1)" font-size="10.2" fill="#f09a2a" text-anchor="middle">23</text>
<text transform="translate(341.45,620.8) scale(0.95,1)" font-size="10.2" fill="#f09a2a" text-anchor="middle">22</text>
<text transform="translate(371.6,620.8) scale(0.95,1)" font-size="10.2" fill="#f09a2a" text-anchor="middle">19</text>
<text transform="translate(401.75,620.8) scale(0.95,1)" font-size="10.2" fill="#f09a2a" text-anchor="middle">19</text>
<text transform="translate(431.9,620.8) scale(0.95,1)" font-size="10.2" fill="#f09a2a" text-anchor="middle">18</text>
<text transform="translate(462.05,620.8) scale(0.95,1)" font-size="10.2" fill="#f09a2a" text-anchor="middle">10</text>
<text transform="translate(492.2,620.8) scale(0.95,1)" font-size="10.2" fill="#f09a2a" text-anchor="middle">NE</text>
<text transform="translate(130.4,641.1) scale(0.95,1)" font-size="10.2" fill="#8a1d66" text-anchor="middle">62</text>
<text transform="translate(160.55,641.1) scale(0.95,1)" font-size="10.2" fill="#8a1d66" text-anchor="middle">55</text>
<text transform="translate(190.7,641.1) scale(0.95,1)" font-size="10.2" fill="#8a1d66" text-anchor="middle">40</text>
<text transform="translate(220.85,641.1) scale(0.95,1)" font-size="10.2" fill="#8a1d66" text-anchor="middle">33</text>
<text transform="translate(251.0,641.1) scale(0.95,1)" font-size="10.2" fill="#8a1d66" text-anchor="middle">22</text>
<text transform="translate(281.15,641.1) scale(0.95,1)" font-size="10.2" fill="#8a1d66" text-anchor="middle">21</text>
<text transform="translate(311.3,641.1) scale(0.95,1)" font-size="10.2" fill="#8a1d66" text-anchor="middle">19</text>
<text transform="translate(341.45,641.1) scale(0.95,1)" font-size="10.2" fill="#8a1d66" text-anchor="middle">15</text>
<text transform="translate(371.6,641.1) scale(0.95,1)" font-size="10.2" fill="#8a1d66" text-anchor="middle">15</text>
<text transform="translate(401.75,641.1) scale(0.95,1)" font-size="10.2" fill="#8a1d66" text-anchor="middle">14</text>
<text transform="translate(431.9,641.1) scale(0.95,1)" font-size="10.2" fill="#8a1d66" text-anchor="middle">11</text>
<text transform="translate(462.05,641.1) scale(0.95,1)" font-size="10.2" fill="#8a1d66" text-anchor="middle">5</text>
<text transform="translate(492.2,641.1) scale(0.95,1)" font-size="10.2" fill="#8a1d66" text-anchor="middle">1</text>
<text transform="translate(130.4,661.4) scale(0.95,1)" font-size="10.2" fill="#161616" text-anchor="middle">16</text>
<text transform="translate(160.55,661.4) scale(0.95,1)" font-size="10.2" fill="#161616" text-anchor="middle">12</text>
<text transform="translate(190.7,661.4) scale(0.95,1)" font-size="10.2" fill="#161616" text-anchor="middle">9</text>
<text transform="translate(220.85,661.4) scale(0.95,1)" font-size="10.2" fill="#161616" text-anchor="middle">6</text>
<text transform="translate(251.0,661.4) scale(0.95,1)" font-size="10.2" fill="#161616" text-anchor="middle">6</text>
<text transform="translate(281.15,661.4) scale(0.95,1)" font-size="10.2" fill="#161616" text-anchor="middle">3</text>
<text transform="translate(311.3,661.4) scale(0.95,1)" font-size="10.2" fill="#161616" text-anchor="middle">3</text>
<text transform="translate(341.45,661.4) scale(0.95,1)" font-size="10.2" fill="#161616" text-anchor="middle">3</text>
<text transform="translate(371.6,661.4) scale(0.95,1)" font-size="10.2" fill="#161616" text-anchor="middle">3</text>
<text transform="translate(401.75,661.4) scale(0.95,1)" font-size="10.2" fill="#161616" text-anchor="middle">3</text>
<text transform="translate(431.9,661.4) scale(0.95,1)" font-size="10.2" fill="#161616" text-anchor="middle">2</text>
<text transform="translate(462.05,661.4) scale(0.95,1)" font-size="10.2" fill="#161616" text-anchor="middle">1</text>
<text transform="translate(492.2,661.4) scale(0.95,1)" font-size="10.2" fill="#161616" text-anchor="middle">NE</text>
<text transform="translate(130.4,681.7) scale(0.95,1)" font-size="10.2" fill="#8d8d8d" text-anchor="middle">33</text>
<text transform="translate(160.55,681.7) scale(0.95,1)" font-size="10.2" fill="#8d8d8d" text-anchor="middle">21</text>
<text transform="translate(190.7,681.7) scale(0.95,1)" font-size="10.2" fill="#8d8d8d" text-anchor="middle">11</text>
<text transform="translate(220.85,681.7) scale(0.95,1)" font-size="10.2" fill="#8d8d8d" text-anchor="middle">6</text>
<text transform="translate(251.0,681.7) scale(0.95,1)" font-size="10.2" fill="#8d8d8d" text-anchor="middle">2</text>
<text transform="translate(281.15,681.7) scale(0.95,1)" font-size="10.2" fill="#8d8d8d" text-anchor="middle">1</text>
<text transform="translate(311.3,681.7) scale(0.95,1)" font-size="10.2" fill="#8d8d8d" text-anchor="middle">1</text>
<text transform="translate(341.45,681.7) scale(0.95,1)" font-size="10.2" fill="#8d8d8d" text-anchor="middle">NE</text>
<text transform="translate(371.6,681.7) scale(0.95,1)" font-size="10.2" fill="#8d8d8d" text-anchor="middle">NE</text>
<text transform="translate(401.75,681.7) scale(0.95,1)" font-size="10.2" fill="#8d8d8d" text-anchor="middle">NE</text>
<text transform="translate(431.9,681.7) scale(0.95,1)" font-size="10.2" fill="#8d8d8d" text-anchor="middle">NE</text>
<text transform="translate(462.05,681.7) scale(0.95,1)" font-size="10.2" fill="#8d8d8d" text-anchor="middle">NE</text>
<text transform="translate(492.2,681.7) scale(0.95,1)" font-size="10.2" fill="#8d8d8d" text-anchor="middle">NE</text>
<text x="103.8" y="600" font-size="9.0" font-weight="700" fill="#2f4e91" text-anchor="end" >LDH normal +</text>
<text x="106.2" y="609.6" font-size="9.0" font-weight="700" fill="#2f4e91" text-anchor="end" >SLD ≤45 mm</text>
<text x="103.8" y="620.6" font-size="9.0" font-weight="700" fill="#f09a2a" text-anchor="end" >LDH normal +</text>
<text x="106.2" y="630" font-size="9.0" font-weight="700" fill="#f09a2a" text-anchor="end" >SLD &gt;45 mm</text>
<text x="103.8" y="641" font-size="9.0" font-weight="700" fill="#8a1d66" text-anchor="end" >LDH elevated ≤2× ULN +</text>
<text x="105.2" y="649" font-size="9.0" font-weight="700" fill="#8a1d66" text-anchor="end" >ECOG PS 0</text>
<text x="103.8" y="661.6" font-size="9.0" font-weight="700" fill="#161616" text-anchor="end" >LDH elevated ≤2× ULN +</text>
<text x="105.2" y="669.6" font-size="9.0" font-weight="700" fill="#161616" text-anchor="end" >ECOG PS ≥1</text>
<text x="105.8" y="681.6" font-size="9.0" font-weight="700" fill="#8d8d8d" text-anchor="end" >LDH elevated &gt;2× ULN</text>
<text x="118.1" y="1257.3" font-size="9.7" font-weight="700" fill="#111" text-anchor="end" >Patients at risk</text>
<text transform="translate(143.3,1277.4) scale(0.95,1)" font-size="10.2" fill="#2f4e91" text-anchor="middle">35</text>
<text transform="translate(173.23,1277.4) scale(0.95,1)" font-size="10.2" fill="#2f4e91" text-anchor="middle">33</text>
<text transform="translate(203.16,1277.4) scale(0.95,1)" font-size="10.2" fill="#2f4e91" text-anchor="middle">32</text>
<text transform="translate(233.09,1277.4) scale(0.95,1)" font-size="10.2" fill="#2f4e91" text-anchor="middle">32</text>
<text transform="translate(263.02,1277.4) scale(0.95,1)" font-size="10.2" fill="#2f4e91" text-anchor="middle">28</text>
<text transform="translate(292.95,1277.4) scale(0.95,1)" font-size="10.2" fill="#2f4e91" text-anchor="middle">26</text>
<text transform="translate(322.88,1277.4) scale(0.95,1)" font-size="10.2" fill="#2f4e91" text-anchor="middle">24</text>
<text transform="translate(352.81,1277.4) scale(0.95,1)" font-size="10.2" fill="#2f4e91" text-anchor="middle">23</text>
<text transform="translate(382.74,1277.4) scale(0.95,1)" font-size="10.2" fill="#2f4e91" text-anchor="middle">22</text>
<text transform="translate(412.67,1277.4) scale(0.95,1)" font-size="10.2" fill="#2f4e91" text-anchor="middle">21</text>
<text transform="translate(442.6,1277.4) scale(0.95,1)" font-size="10.2" fill="#2f4e91" text-anchor="middle">20</text>
<text transform="translate(472.53,1277.4) scale(0.95,1)" font-size="10.2" fill="#2f4e91" text-anchor="middle">13</text>
<text transform="translate(502.46,1277.4) scale(0.95,1)" font-size="10.2" fill="#2f4e91" text-anchor="middle">NE</text>
<text transform="translate(143.3,1297.6) scale(0.95,1)" font-size="10.2" fill="#f09a2a" text-anchor="middle">96</text>
<text transform="translate(173.23,1297.6) scale(0.95,1)" font-size="10.2" fill="#f09a2a" text-anchor="middle">84</text>
<text transform="translate(203.16,1297.6) scale(0.95,1)" font-size="10.2" fill="#f09a2a" text-anchor="middle">72</text>
<text transform="translate(233.09,1297.6) scale(0.95,1)" font-size="10.2" fill="#f09a2a" text-anchor="middle">58</text>
<text transform="translate(263.02,1297.6) scale(0.95,1)" font-size="10.2" fill="#f09a2a" text-anchor="middle">47</text>
<text transform="translate(292.95,1297.6) scale(0.95,1)" font-size="10.2" fill="#f09a2a" text-anchor="middle">36</text>
<text transform="translate(322.88,1297.6) scale(0.95,1)" font-size="10.2" fill="#f09a2a" text-anchor="middle">32</text>
<text transform="translate(352.81,1297.6) scale(0.95,1)" font-size="10.2" fill="#f09a2a" text-anchor="middle">31</text>
<text transform="translate(382.74,1297.6) scale(0.95,1)" font-size="10.2" fill="#f09a2a" text-anchor="middle">27</text>
<text transform="translate(412.67,1297.6) scale(0.95,1)" font-size="10.2" fill="#f09a2a" text-anchor="middle">25</text>
<text transform="translate(442.6,1297.6) scale(0.95,1)" font-size="10.2" fill="#f09a2a" text-anchor="middle">24</text>
<text transform="translate(472.53,1297.6) scale(0.95,1)" font-size="10.2" fill="#f09a2a" text-anchor="middle">12</text>
<text transform="translate(502.46,1297.6) scale(0.95,1)" font-size="10.2" fill="#f09a2a" text-anchor="middle">2</text>
<text transform="translate(143.3,1317.9) scale(0.95,1)" font-size="10.2" fill="#8a1d66" text-anchor="middle">62</text>
<text transform="translate(173.23,1317.9) scale(0.95,1)" font-size="10.2" fill="#8a1d66" text-anchor="middle">55</text>
<text transform="translate(203.16,1317.9) scale(0.95,1)" font-size="10.2" fill="#8a1d66" text-anchor="middle">40</text>
<text transform="translate(233.09,1317.9) scale(0.95,1)" font-size="10.2" fill="#8a1d66" text-anchor="middle">33</text>
<text transform="translate(263.02,1317.9) scale(0.95,1)" font-size="10.2" fill="#8a1d66" text-anchor="middle">22</text>
<text transform="translate(292.95,1317.9) scale(0.95,1)" font-size="10.2" fill="#8a1d66" text-anchor="middle">21</text>
<text transform="translate(322.88,1317.9) scale(0.95,1)" font-size="10.2" fill="#8a1d66" text-anchor="middle">19</text>
<text transform="translate(352.81,1317.9) scale(0.95,1)" font-size="10.2" fill="#8a1d66" text-anchor="middle">15</text>
<text transform="translate(382.74,1317.9) scale(0.95,1)" font-size="10.2" fill="#8a1d66" text-anchor="middle">15</text>
<text transform="translate(412.67,1317.9) scale(0.95,1)" font-size="10.2" fill="#8a1d66" text-anchor="middle">14</text>
<text transform="translate(442.6,1317.9) scale(0.95,1)" font-size="10.2" fill="#8a1d66" text-anchor="middle">11</text>
<text transform="translate(472.53,1317.9) scale(0.95,1)" font-size="10.2" fill="#8a1d66" text-anchor="middle">5</text>
<text transform="translate(502.46,1317.9) scale(0.95,1)" font-size="10.2" fill="#8a1d66" text-anchor="middle">1</text>
<text transform="translate(143.3,1338.2) scale(0.95,1)" font-size="10.2" fill="#161616" text-anchor="middle">16</text>
<text transform="translate(173.23,1338.2) scale(0.95,1)" font-size="10.2" fill="#161616" text-anchor="middle">12</text>
<text transform="translate(203.16,1338.2) scale(0.95,1)" font-size="10.2" fill="#161616" text-anchor="middle">9</text>
<text transform="translate(233.09,1338.2) scale(0.95,1)" font-size="10.2" fill="#161616" text-anchor="middle">6</text>
<text transform="translate(263.02,1338.2) scale(0.95,1)" font-size="10.2" fill="#161616" text-anchor="middle">6</text>
<text transform="translate(292.95,1338.2) scale(0.95,1)" font-size="10.2" fill="#161616" text-anchor="middle">3</text>
<text transform="translate(322.88,1338.2) scale(0.95,1)" font-size="10.2" fill="#161616" text-anchor="middle">3</text>
<text transform="translate(352.81,1338.2) scale(0.95,1)" font-size="10.2" fill="#161616" text-anchor="middle">3</text>
<text transform="translate(382.74,1338.2) scale(0.95,1)" font-size="10.2" fill="#161616" text-anchor="middle">3</text>
<text transform="translate(412.67,1338.2) scale(0.95,1)" font-size="10.2" fill="#161616" text-anchor="middle">3</text>
<text transform="translate(442.6,1338.2) scale(0.95,1)" font-size="10.2" fill="#161616" text-anchor="middle">2</text>
<text transform="translate(472.53,1338.2) scale(0.95,1)" font-size="10.2" fill="#161616" text-anchor="middle">1</text>
<text transform="translate(502.46,1338.2) scale(0.95,1)" font-size="10.2" fill="#161616" text-anchor="middle">NE</text>
<text transform="translate(143.3,1358.5) scale(0.95,1)" font-size="10.2" fill="#8d8d8d" text-anchor="middle">33</text>
<text transform="translate(173.23,1358.5) scale(0.95,1)" font-size="10.2" fill="#8d8d8d" text-anchor="middle">21</text>
<text transform="translate(203.16,1358.5) scale(0.95,1)" font-size="10.2" fill="#8d8d8d" text-anchor="middle">11</text>
<text transform="translate(233.09,1358.5) scale(0.95,1)" font-size="10.2" fill="#8d8d8d" text-anchor="middle">6</text>
<text transform="translate(263.02,1358.5) scale(0.95,1)" font-size="10.2" fill="#8d8d8d" text-anchor="middle">2</text>
<text transform="translate(292.95,1358.5) scale(0.95,1)" font-size="10.2" fill="#8d8d8d" text-anchor="middle">1</text>
<text transform="translate(322.88,1358.5) scale(0.95,1)" font-size="10.2" fill="#8d8d8d" text-anchor="middle">1</text>
<text transform="translate(352.81,1358.5) scale(0.95,1)" font-size="10.2" fill="#8d8d8d" text-anchor="middle">NE</text>
<text transform="translate(382.74,1358.5) scale(0.95,1)" font-size="10.2" fill="#8d8d8d" text-anchor="middle">NE</text>
<text transform="translate(412.67,1358.5) scale(0.95,1)" font-size="10.2" fill="#8d8d8d" text-anchor="middle">NE</text>
<text transform="translate(442.6,1358.5) scale(0.95,1)" font-size="10.2" fill="#8d8d8d" text-anchor="middle">NE</text>
<text transform="translate(472.53,1358.5) scale(0.95,1)" font-size="10.2" fill="#8d8d8d" text-anchor="middle">NE</text>
<text transform="translate(502.46,1358.5) scale(0.95,1)" font-size="10.2" fill="#8d8d8d" text-anchor="middle">NE</text>
<text x="116.1" y="1276.8" font-size="9.0" font-weight="700" fill="#2f4e91" text-anchor="end" >LDH normal +</text>
<text x="118.5" y="1286.4" font-size="9.0" font-weight="700" fill="#2f4e91" text-anchor="end" >&lt;3 organ sites</text>
<text x="116.1" y="1297.4" font-size="9.0" font-weight="700" fill="#f09a2a" text-anchor="end" >LDH normal +</text>
<text x="118.5" y="1306.8" font-size="9.0" font-weight="700" fill="#f09a2a" text-anchor="end" >≥3 organ sites</text>
<text x="116.1" y="1317.8" font-size="9.0" font-weight="700" fill="#8a1d66" text-anchor="end" >LDH elevated ≤2× ULN +</text>
<text x="117.5" y="1325.8" font-size="9.0" font-weight="700" fill="#8a1d66" text-anchor="end" >ECOG PS 0</text>
<text x="116.1" y="1338.4" font-size="9.0" font-weight="700" fill="#161616" text-anchor="end" >LDH elevated ≤2× ULN +</text>
<text x="117.5" y="1346.4" font-size="9.0" font-weight="700" fill="#161616" text-anchor="end" >ECOG PS ≥1</text>
<text x="118.1" y="1358.4" font-size="9.0" font-weight="700" fill="#8d8d8d" text-anchor="end" >LDH elevated &gt;2× ULN</text>
</svg>
</body></html>
